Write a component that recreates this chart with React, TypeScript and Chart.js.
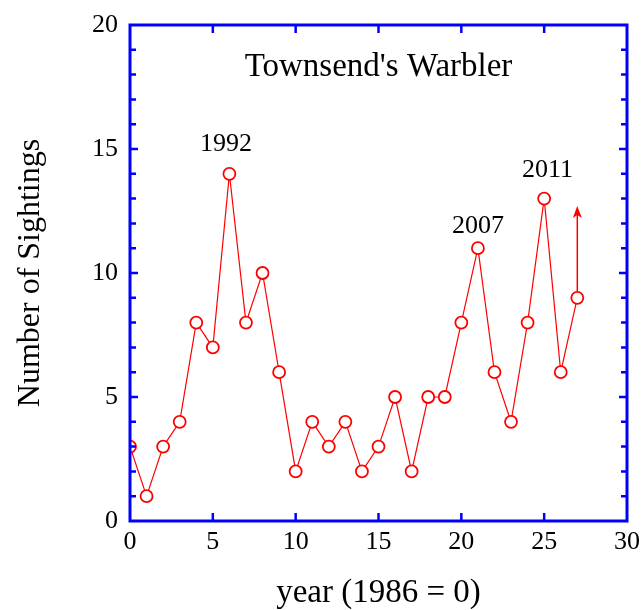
import React, { useEffect, useRef } from "react";
import { Chart, registerables } from "chart.js";
Chart.register(...registerables);

const years = [0,1,2,3,4,5,6,7,8,9,10,11,12,13,14,15,16,17,18,19,20,21,22,23,24,25,26,27];
const sightings = [3,1,3,4,8,7,14,8,10,6,2,4,3,4,2,3,5,2,5,5,8,11,6,4,8,13,6,9];
const annotations = [
  { text: "1992", x: 5.8, y: 15.2 },
  { text: "2007", x: 21, y: 11.9 },
  { text: "2011", x: 25.2, y: 14.15 },
];
const titleText = "Townsend's Warbler";
const titlePos = { x: 15.0, y: 18.3 };
const arrow = { x: 27, from: 9, to: 12.7 };

const BLUE = "#0000ff";
const RED = "#ff0000";
const SERIF = "'Liberation Serif', 'Times New Roman', serif";

const framePlugin = {
  id: "frame",
  afterDraw(chart: any) {
    const { ctx, chartArea: a, scales } = chart;
    const xs = scales.x, ys = scales.y;
    ctx.save();
    ctx.strokeStyle = BLUE;
    ctx.lineWidth = 3;
    ctx.strokeRect(a.left, a.top, a.right - a.left, a.bottom - a.top);
    ctx.lineWidth = 2.5;
    ctx.beginPath();
    for (let v = 5; v < 30; v += 5) {
      const px = xs.getPixelForValue(v);
      ctx.moveTo(px, a.bottom); ctx.lineTo(px, a.bottom - 8);
      ctx.moveTo(px, a.top); ctx.lineTo(px, a.top + 8);
    }
    for (let v = 1; v < 20; v++) {
      const py = ys.getPixelForValue(v);
      const len = v % 5 === 0 ? 8 : 6;
      ctx.moveTo(a.left, py); ctx.lineTo(a.left + len, py);
      ctx.moveTo(a.right, py); ctx.lineTo(a.right - len, py);
    }
    ctx.stroke();

    // title + annotations
    ctx.fillStyle = "#000";
    ctx.textAlign = "center";
    ctx.textBaseline = "middle";
    ctx.font = `33px ${SERIF}`;
    ctx.fillText(titleText, xs.getPixelForValue(titlePos.x), ys.getPixelForValue(titlePos.y));
    ctx.font = `26px ${SERIF}`;
    for (const an of annotations) {
      ctx.fillText(an.text, xs.getPixelForValue(an.x), ys.getPixelForValue(an.y));
    }

    // arrow
    const ax = xs.getPixelForValue(arrow.x);
    const y0 = ys.getPixelForValue(arrow.from) - 6;
    const y1 = ys.getPixelForValue(arrow.to);
    ctx.strokeStyle = RED;
    ctx.fillStyle = RED;
    ctx.lineWidth = 1.5;
    ctx.beginPath();
    ctx.moveTo(ax, y0); ctx.lineTo(ax, y1 + 4);
    ctx.stroke();
    ctx.beginPath();
    ctx.moveTo(ax, y1);
    ctx.lineTo(ax - 4.5, y1 + 12);
    ctx.lineTo(ax, y1 + 9);
    ctx.lineTo(ax + 4.5, y1 + 12);
    ctx.closePath();
    ctx.fill();
    ctx.restore();
  },
};

export default function App() {
  const ref = useRef<HTMLCanvasElement>(null);
  useEffect(() => {
    const chart = new Chart(ref.current!, {
      type: "line",
      data: {
        datasets: [
          {
            data: years.map((x, i) => ({ x, y: sightings[i] })),
            borderColor: RED,
            borderWidth: 1.2,
            pointStyle: "circle",
            pointRadius: 6,
            pointBorderWidth: 1.8,
            pointBorderColor: RED,
            pointBackgroundColor: "#fff",
            tension: 0,
          },
        ],
      },
      options: {
        animation: false,
        responsive: false,
        layout: { padding: { left: 0, right: 15, top: 25, bottom: 0 } },
        plugins: { legend: { display: false }, tooltip: { enabled: false } },
        scales: {
          x: {
            type: "linear",
            min: 0,
            max: 30,
            grid: { display: false, drawTicks: false },
            border: { display: false },
            ticks: {
              stepSize: 5,
              color: "#000",
              padding: 6,
              font: { family: SERIF, size: 26 },
              maxRotation: 0,
            },
            title: {
              display: true,
              text: "year (1986 = 0)",
              color: "#000",
              font: { family: SERIF, size: 33 },
              padding: { top: 10, bottom: -3 },
            },
            afterFit(s: any) {
              s.height = 89;
              s.paddingLeft = 0;
              s.paddingRight = 0;
            },
          },
          y: {
            min: 0,
            max: 20,
            grid: { display: false, drawTicks: false },
            border: { display: false },
            ticks: {
              stepSize: 5,
              color: "#000",
              padding: 12,
              font: { family: SERIF, size: 26 },
            },
            title: {
              display: true,
              text: "Number of Sightings",
              color: "#000",
              font: { family: SERIF, size: 32 },
              padding: { top: 11, bottom: 0 },
            },
            afterFit(s: any) {
              s.width = 130;
              s.paddingTop = 0;
              s.paddingBottom = 0;
            },
          },
        },
      },
      plugins: [framePlugin],
    } as any);
    return () => chart.destroy();
  }, []);
  return (
    <div style={{ position: "absolute", left: 0, top: 0, width: 642, height: 610, background: "#fff" }}>
      <canvas ref={ref} width={642} height={610} style={{ width: 642, height: 610 }} />
    </div>
  );
}
